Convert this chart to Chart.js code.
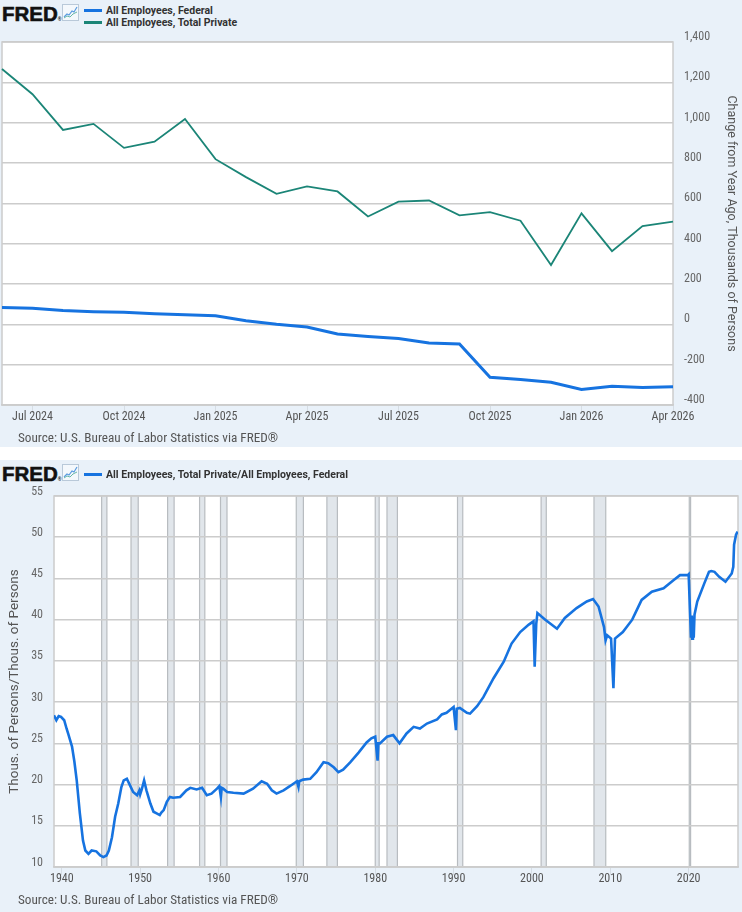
<!DOCTYPE html>
<html>
<head>
<meta charset="utf-8">
<script src="https://cdn.jsdelivr.net/npm/chart.js@4.4.0/dist/chart.umd.min.js"></script>
<style>
  html,body{margin:0;padding:0;background:#fff;width:742px;height:912px;overflow:hidden;}
  .panel{position:absolute;left:0;width:742px;background:#e9f1f9;}
  #p1{top:0;height:447px;}
  #p2{top:460px;height:452px;}
  canvas{position:absolute;left:0;top:0;}
  .logo{position:absolute;left:2px;font-family:"Liberation Sans",Arial,sans-serif;font-weight:bold;font-size:20.5px;letter-spacing:0;color:#111;line-height:20px;-webkit-text-stroke:0.6px #111;}
  .icon{position:absolute;left:62px;width:15px;height:15px;border:1px solid #b9c9d9;background:#f4f8fc;}
  .leg{position:absolute;left:84px;font-family:Roboto,"Liberation Sans",sans-serif;font-weight:bold;font-size:10.5px;color:#333;line-height:12px;white-space:nowrap;}
  .leg span.sw{display:inline-block;width:18px;height:3px;vertical-align:middle;margin-right:4px;position:relative;top:-1px;}
  .src{position:absolute;left:18px;font-family:"Liberation Sans Narrow","Roboto Condensed",Roboto,sans-serif;font-size:13.2px;color:#555;white-space:nowrap;}
</style>
</head>
<body>
<script>
// ---------- Top chart data (change from year ago, thousands of persons) ----------
const months = ['Jun 2024','Jul 2024','Aug 2024','Sep 2024','Oct 2024','Nov 2024','Dec 2024',
  'Jan 2025','Feb 2025','Mar 2025','Apr 2025','May 2025','Jun 2025','Jul 2025','Aug 2025','Sep 2025',
  'Oct 2025','Nov 2025','Dec 2025','Jan 2026','Feb 2026','Mar 2026','Apr 2026'];
const federalChange = [83,80,68,63,60,52,47,42,18,0,-13,-48,-60,-70,-93,-97,-263,-273,-287,-323,-307,-313,-310];
const privateChange = [1266,1141,964,994,875,906,1018,819,730,647,684,659,535,608,614,540,556,514,294,550,363,487,509];
const topYTicks = [-400,-200,0,200,400,600,800,1000,1200,1400];

// ---------- Bottom chart data (ratio: total private / federal) ----------
const yearTicks = [1940,1950,1960,1970,1980,1990,2000,2010,2020];
const ratioDates = [1939.0,1939.3,1939.6,1939.9,1940.3,1940.6,1940.8,1941.3,1941.6,1941.9,1942.3,1942.7,
  1943.0,1943.4,1943.8,1944.4,1944.9,1945.3,1945.7,1946.0,1946.4,1946.8,1947.2,1947.6,1947.9,1948.3,1948.7,
  1949.1,1949.6,1949.9,1950.0,1950.2,1950.5,1950.8,1951.3,1951.7,1952.1,1952.5,1952.7,1953.0,1953.4,1953.8,
  1954.2,1955.1,1955.9,1956.4,1957.2,1957.9,1958.5,1959.1,1959.8,1960.1,1960.3,1960.4,1960.6,1961.1,1961.9,
  1963.2,1964.4,1965.5,1966.2,1966.8,1967.4,1968.3,1969.1,1970.0,1970.2,1970.3,1970.8,1971.7,1972.5,1973.4,
  1974.0,1974.7,1975.3,1975.9,1976.8,1977.9,1978.9,1979.5,1980.0,1980.3,1980.4,1980.6,1981.5,1982.3,1983.1,
  1984.0,1984.9,1985.7,1986.6,1987.9,1988.5,1989.1,1990.0,1990.3,1990.4,1990.8,1991.7,1992.1,1993.0,1993.8,
  1995.1,1996.4,1997.4,1998.5,1999.6,2000.2,2000.35,2000.55,2000.7,2001.7,2003.2,2004.2,2005.7,2007.0,2007.8,
  2008.5,2009.2,2009.4,2009.6,2010.1,2010.4,2010.6,2011.6,2012.8,2014.0,2015.3,2016.8,2018.1,2018.9,2019.9,
  2020.0,2020.3,2020.4,2020.45,2020.55,2020.65,2020.75,2021.1,2022.0,2022.6,2022.9,2023.3,2023.9,2024.7,
  2025.5,2025.7,2025.8,2026.05,2026.25];
const ratioValues = [28.4,27.8,28.3,28.2,27.8,26.8,26.2,24.6,22.8,20.5,16.5,13.2,
  12.0,11.6,12.0,11.9,11.4,11.2,11.4,12.0,13.6,16.1,17.7,19.7,20.5,20.7,19.9,
  19.1,18.7,19.3,18.8,19.4,20.5,19.3,17.7,16.7,16.5,16.3,16.6,16.9,17.9,18.5,
  18.4,18.5,19.3,19.6,19.4,19.6,18.7,18.9,19.5,19.8,18.5,19.6,19.5,19.1,19.0,
  18.9,19.5,20.4,20.1,19.3,18.9,19.3,19.8,20.4,19.7,20.4,20.6,20.7,21.5,22.7,
  22.6,22.1,21.5,21.8,22.7,23.9,25.1,25.6,25.8,22.9,25.0,25.0,25.8,26.0,25.0,
  26.2,27.0,26.8,27.4,27.9,28.5,28.7,29.4,26.6,29.2,29.3,28.7,28.6,29.5,30.6,
  32.9,34.9,37.1,38.5,39.4,39.8,34.3,39.5,40.8,40.0,38.9,40.2,41.4,42.2,42.5,
  41.6,39.1,37.5,38.1,37.7,31.7,37.7,38.5,40.0,42.4,43.4,43.8,44.8,45.4,45.4,
  45.5,37.8,40.5,37.7,40.2,37.8,40.6,42.2,44.4,45.8,45.9,45.8,45.2,44.6,
  45.6,46.4,49.1,50.3,50.7];
const recessionStarts = [1945.08,1948.83,1953.50,1957.58,1960.25,1969.92,1973.83,1980.00,1981.50,1990.50,2001.17,2007.92,2020.08];
const recessionEnds   = [1945.75,1949.75,1954.33,1958.25,1961.08,1970.83,1975.17,1980.50,1982.83,1991.17,2001.83,2009.42,2020.25];

const NARROW = '"Liberation Sans Narrow","Roboto Condensed",Roboto,sans-serif';
const REG = 'Roboto,"Liberation Sans",sans-serif';
const GRID = '#cccccc';
const BLUE = '#1673e0';
const GREEN = '#1b8577';
Chart.defaults.font.family = NARROW;
Chart.defaults.color = '#666';

function mk(tag, cls, parent, html){const e=document.createElement(tag); if(cls) e.className=cls; if(html!==undefined) e.innerHTML=html; parent.appendChild(e); return e;}
function header(panel, items, legTop){
  const logo = mk('div','logo',panel,'FRED<span style="font-size:5px;letter-spacing:0;-webkit-text-stroke:0">&reg;</span>'); logo.style.top='4px';
  const ic = mk('div','icon',panel); ic.style.top='4px';
  ic.innerHTML='<svg width="15" height="15" viewBox="0 0 15 15"><polyline points="1,12 4,9 6,10 9,6 11,7 14,2" fill="none" stroke="#5b9be0" stroke-width="1.2"/><polyline points="1,13 4,11 7,12 10,9 14,7" fill="none" stroke="#67b7a8" stroke-width="1"/></svg>';
  items.forEach((it,i)=>{
    const l = mk('div','leg',panel,'<span class="sw" style="background:'+it.c+'"></span>'+it.t);
    l.style.top = (legTop + i*12) + 'px';
  });
}

const plotFrame = {
  id:'plotFrame',
  beforeDraw(chart){
    const {ctx, chartArea:a} = chart;
    ctx.save(); ctx.fillStyle='#fff'; ctx.fillRect(a.left,a.top,a.right-a.left,a.bottom-a.top);
    const o = chart.options.plugins.plotFrame || {};
    if (o.bands){
      const xs = chart.scales.x;
      o.bands.starts.forEach((s,i)=>{
        const x1 = xs.getPixelForValue(s), x2 = xs.getPixelForValue(o.bands.ends[i]);
        ctx.fillStyle='#e1e6eb'; ctx.fillRect(x1,a.top,Math.max(x2-x1,1),a.bottom-a.top);
        ctx.strokeStyle='#b8bcc0'; ctx.lineWidth=1.2;
        ctx.beginPath(); ctx.moveTo(x1,a.top); ctx.lineTo(x1,a.bottom); ctx.moveTo(x2,a.top); ctx.lineTo(x2,a.bottom); ctx.stroke();
      });
    }
    ctx.restore();
  },
  beforeDatasetsDraw(chart){
    const {ctx, chartArea:a} = chart;
    ctx.save(); ctx.strokeStyle=GRID; ctx.lineWidth=1.5;
    ctx.strokeRect(a.left,a.top,a.right-a.left,a.bottom-a.top); ctx.restore();
  }
};

// ---------- Top panel ----------
const p1 = mk('div','panel',document.body); p1.id='p1';
header(p1,[{c:BLUE,t:'All Employees, Federal'},{c:GREEN,t:'All Employees, Total Private'}],5);
const c1 = mk('canvas','',p1); c1.width=742; c1.height=447; c1.style.width='742px'; c1.style.height='447px';
const s1 = mk('div','src',p1,'Source: U.S. Bureau of Labor Statistics via FRED&reg;'); s1.style.top='430px';

new Chart(c1,{
  type:'line',
  data:{labels:months,datasets:[
    {label:'All Employees, Federal',data:federalChange,borderColor:BLUE,borderWidth:3,pointRadius:0,tension:0},
    {label:'All Employees, Total Private',data:privateChange,borderColor:GREEN,borderWidth:1.8,pointRadius:0,tension:0}
  ]},
  options:{
    responsive:false,animation:false,devicePixelRatio:1,
    layout:{padding:{left:2,top:42,right:0,bottom:0}},
    plugins:{legend:{display:false},tooltip:{enabled:false},plotFrame:{}},
    scales:{
      x:{
        grid:{drawOnChartArea:false,tickLength:8,color:'#d6dde4',lineWidth:1},
        border:{color:GRID,width:1.5},
        ticks:{autoSkip:false,maxRotation:0,padding:-3,color:'#555',font:{size:12},
          callback:function(v,i){const m=months[i].slice(0,3);return (m==='Jan'||m==='Apr'||m==='Jul'||m==='Oct')?months[i]:null;}},
        afterFit:function(s){s.height=42;}
      },
      y:{
        position:'right',min:-400,max:1400,
        afterBuildTicks:function(s){s.ticks=topYTicks.map(v=>({value:v}));},
        grid:{color:GRID,lineWidth:1.5,drawTicks:false},
        border:{display:false},
        ticks:{padding:11,labelOffset:-5,color:'#666',font:{size:12},callback:v=>v.toLocaleString('en-US')},
        title:{display:true,text:'Change from Year Ago, Thousands of Persons',color:'#555',font:{family:REG,size:12.5},padding:{top:3,bottom:0}},
        afterFit:function(s){s.width=69;}
      }
    }
  },
  plugins:[plotFrame]
});

// ---------- Bottom panel ----------
const p2 = mk('div','panel',document.body); p2.id='p2';
header(p2,[{c:BLUE,t:'All Employees, Total Private/All Employees, Federal'}],9);
const c2 = mk('canvas','',p2); c2.width=742; c2.height=452; c2.style.width='742px'; c2.style.height='452px';
const s2 = mk('div','src',p2,'Source: U.S. Bureau of Labor Statistics via FRED&reg;'); s2.style.top='432px';

new Chart(c2,{
  type:'line',
  data:{datasets:[{label:'All Employees, Total Private/All Employees, Federal',
    data:ratioDates.map((d,i)=>({x:d,y:ratioValues[i]})),
    borderColor:BLUE,borderWidth:2.6,pointRadius:0,tension:0}]},
  options:{
    responsive:false,animation:false,devicePixelRatio:1,
    layout:{padding:{left:0,top:36,right:4,bottom:0}},
    plugins:{legend:{display:false},tooltip:{enabled:false},
      plotFrame:{bands:{starts:recessionStarts,ends:recessionEnds}}},
    scales:{
      x:{
        type:'linear',min:1939,max:2026.3,
        afterBuildTicks:function(s){s.ticks=yearTicks.map(v=>({value:v}));},
        grid:{drawOnChartArea:false,tickLength:8,color:'#d6dde4',lineWidth:1},
        border:{color:GRID,width:1.5},
        ticks:{maxRotation:0,padding:-3,color:'#555',font:{size:12},callback:v=>String(v)},
        afterFit:function(s){s.height=45;}
      },
      y:{
        position:'left',min:10,max:55,
        afterBuildTicks:function(s){const t=[];for(let v=10;v<=55;v+=5)t.push({value:v});s.ticks=t;},
        grid:{color:GRID,lineWidth:1.5,drawTicks:false},
        border:{display:false},
        ticks:{padding:11,labelOffset:-4.5,color:'#666',font:{size:12},callback:v=>String(v)},
        title:{display:true,text:'Thous. of Persons/Thous. of Persons',color:'#555',font:{family:REG,size:13.5},padding:{top:7,bottom:0}},
        afterFit:function(s){s.width=54;}
      }
    }
  },
  plugins:[plotFrame]
});
</script>
</body>
</html>
